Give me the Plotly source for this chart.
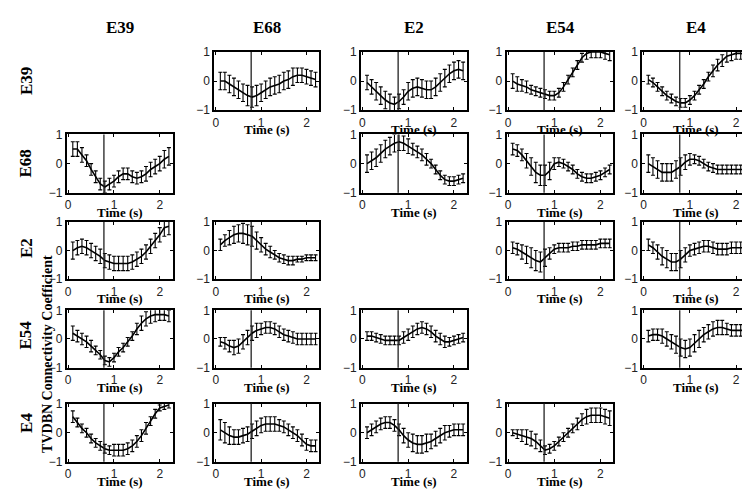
import plotly.graph_objects as go

channels = ["E39", "E68", "E2", "E54", "E4"]
time_s = [0.1, 0.2, 0.3, 0.4, 0.5, 0.6, 0.7, 0.8, 0.9, 1.0, 1.1,
          1.2, 1.3, 1.4, 1.5, 1.6, 1.7, 1.8, 1.9, 2.0, 2.1, 2.2]
onset_s = 0.78
x_ticks = [0, 1, 2]
y_ticks = [-1, 0, 1]

# row E39
e39_e68 = [0.0, 0.0, -0.1, -0.2, -0.3, -0.4, -0.5, -0.55, -0.5, -0.4, -0.3, -0.2, -0.15, -0.1, 0.0, 0.05, 0.15, 0.2, 0.2, 0.15, 0.1, 0.05]
e39_e68_err = [0.3, 0.3, 0.3, 0.3, 0.3, 0.3, 0.35, 0.35, 0.35, 0.3, 0.3, 0.3, 0.3, 0.3, 0.3, 0.3, 0.3, 0.25, 0.25, 0.25, 0.25, 0.25]
e39_e2 = [-0.05, -0.2, -0.35, -0.5, -0.65, -0.75, -0.8, -0.7, -0.55, -0.35, -0.25, -0.2, -0.25, -0.3, -0.3, -0.2, -0.05, 0.1, 0.25, 0.35, 0.4, 0.35]
e39_e2_err = [0.25, 0.25, 0.3, 0.3, 0.3, 0.3, 0.25, 0.25, 0.25, 0.3, 0.3, 0.3, 0.3, 0.3, 0.3, 0.3, 0.3, 0.3, 0.3, 0.3, 0.3, 0.3]
e39_e54 = [0.0, -0.1, -0.15, -0.2, -0.3, -0.35, -0.4, -0.45, -0.5, -0.5, -0.4, -0.2, 0.05, 0.3, 0.55, 0.8, 0.95, 1.0, 1.0, 1.0, 0.95, 0.9]
e39_e54_err = [0.25, 0.25, 0.2, 0.2, 0.15, 0.15, 0.15, 0.15, 0.15, 0.15, 0.15, 0.15, 0.15, 0.15, 0.15, 0.15, 0.2, 0.2, 0.2, 0.2, 0.2, 0.2]
e39_e4 = [0.05, -0.05, -0.2, -0.35, -0.5, -0.6, -0.7, -0.75, -0.75, -0.65, -0.5, -0.3, -0.1, 0.15, 0.35, 0.55, 0.7, 0.85, 0.9, 0.95, 0.95, 0.9]
e39_e4_err = [0.15, 0.15, 0.15, 0.15, 0.15, 0.15, 0.15, 0.15, 0.15, 0.15, 0.15, 0.15, 0.15, 0.15, 0.2, 0.2, 0.2, 0.2, 0.2, 0.2, 0.2, 0.2]

# row E68
e68_e39 = [0.5, 0.5, 0.3, 0.1, -0.2, -0.45, -0.7, -0.8, -0.7, -0.6, -0.45, -0.35, -0.35, -0.45, -0.5, -0.45, -0.35, -0.2, -0.1, 0.0, 0.15, 0.25]
e68_e39_err = [0.25, 0.25, 0.25, 0.2, 0.2, 0.2, 0.2, 0.2, 0.2, 0.2, 0.2, 0.2, 0.2, 0.2, 0.2, 0.2, 0.25, 0.25, 0.25, 0.25, 0.3, 0.3]
e68_e2 = [0.0, 0.1, 0.2, 0.35, 0.5, 0.6, 0.7, 0.75, 0.7, 0.6, 0.5, 0.4, 0.3, 0.15, 0.0, -0.2, -0.4, -0.55, -0.6, -0.6, -0.55, -0.5]
e68_e2_err = [0.3, 0.3, 0.3, 0.3, 0.3, 0.3, 0.3, 0.3, 0.25, 0.25, 0.2, 0.2, 0.2, 0.2, 0.15, 0.15, 0.15, 0.15, 0.15, 0.15, 0.15, 0.15]
e68_e54 = [0.5, 0.45, 0.3, 0.1, -0.1, -0.3, -0.4, -0.4, -0.25, 0.0, 0.05, 0.0, -0.1, -0.2, -0.35, -0.45, -0.5, -0.5, -0.45, -0.4, -0.3, -0.2]
e68_e54_err = [0.2, 0.2, 0.2, 0.25, 0.3, 0.35, 0.35, 0.35, 0.3, 0.2, 0.15, 0.15, 0.15, 0.15, 0.15, 0.15, 0.15, 0.15, 0.15, 0.15, 0.15, 0.15]
e68_e4 = [0.0, -0.1, -0.2, -0.3, -0.3, -0.3, -0.2, -0.1, 0.05, 0.15, 0.15, 0.1, 0.0, -0.1, -0.15, -0.2, -0.2, -0.2, -0.2, -0.2, -0.2, -0.2]
e68_e4_err = [0.3, 0.3, 0.3, 0.3, 0.3, 0.3, 0.3, 0.3, 0.25, 0.2, 0.15, 0.15, 0.15, 0.15, 0.15, 0.15, 0.15, 0.15, 0.15, 0.15, 0.15, 0.15]

# row E2
e2_e39 = [0.0, 0.1, 0.15, 0.1, 0.0, -0.1, -0.2, -0.35, -0.4, -0.45, -0.45, -0.45, -0.45, -0.4, -0.3, -0.2, -0.05, 0.15, 0.35, 0.55, 0.8, 0.85]
e2_e39_err = [0.3, 0.25, 0.25, 0.25, 0.25, 0.25, 0.25, 0.25, 0.25, 0.25, 0.25, 0.25, 0.25, 0.25, 0.25, 0.25, 0.25, 0.25, 0.25, 0.25, 0.3, 0.3]
e2_e68 = [0.2, 0.35, 0.45, 0.55, 0.6, 0.6, 0.55, 0.5, 0.35, 0.2, 0.05, -0.05, -0.15, -0.25, -0.3, -0.35, -0.35, -0.3, -0.3, -0.25, -0.25, -0.25]
e2_e68_err = [0.2, 0.2, 0.25, 0.3, 0.3, 0.35, 0.35, 0.35, 0.3, 0.25, 0.2, 0.2, 0.15, 0.15, 0.15, 0.15, 0.15, 0.1, 0.1, 0.1, 0.1, 0.1]
e2_e54 = [0.1, 0.05, -0.05, -0.15, -0.25, -0.35, -0.4, -0.25, -0.1, 0.05, 0.1, 0.1, 0.1, 0.15, 0.15, 0.2, 0.2, 0.2, 0.2, 0.25, 0.25, 0.25]
e2_e54_err = [0.2, 0.2, 0.25, 0.3, 0.35, 0.35, 0.35, 0.3, 0.2, 0.15, 0.15, 0.15, 0.15, 0.15, 0.15, 0.15, 0.15, 0.15, 0.15, 0.15, 0.15, 0.15]
e2_e4 = [0.2, 0.1, -0.05, -0.2, -0.3, -0.4, -0.4, -0.3, -0.15, 0.0, 0.05, 0.1, 0.15, 0.15, 0.1, 0.05, 0.05, 0.05, 0.1, 0.1, 0.1, 0.1]
e2_e4_err = [0.2, 0.2, 0.25, 0.3, 0.3, 0.3, 0.3, 0.3, 0.25, 0.2, 0.2, 0.2, 0.2, 0.2, 0.2, 0.2, 0.2, 0.2, 0.2, 0.2, 0.2, 0.2]

# row E54
e54_e39 = [0.2, 0.1, 0.0, -0.1, -0.25, -0.4, -0.55, -0.75, -0.8, -0.65, -0.45, -0.3, -0.1, 0.1, 0.35, 0.55, 0.7, 0.8, 0.85, 0.85, 0.85, 0.8]
e54_e39_err = [0.25, 0.2, 0.2, 0.2, 0.2, 0.15, 0.15, 0.15, 0.15, 0.15, 0.15, 0.15, 0.15, 0.15, 0.2, 0.25, 0.25, 0.25, 0.25, 0.2, 0.2, 0.2]
e54_e68 = [-0.1, -0.15, -0.25, -0.3, -0.25, -0.1, 0.05, 0.2, 0.3, 0.35, 0.4, 0.4, 0.35, 0.25, 0.15, 0.1, 0.05, 0.0, 0.0, 0.0, 0.0, 0.0]
e54_e68_err = [0.15, 0.2, 0.2, 0.25, 0.25, 0.25, 0.25, 0.25, 0.25, 0.2, 0.2, 0.2, 0.2, 0.2, 0.2, 0.2, 0.2, 0.2, 0.2, 0.2, 0.2, 0.2]
e54_e2 = [0.1, 0.1, 0.05, 0.0, -0.05, -0.05, -0.05, -0.05, 0.05, 0.15, 0.25, 0.35, 0.4, 0.35, 0.25, 0.1, 0.0, -0.1, -0.1, -0.05, 0.0, 0.05]
e54_e2_err = [0.15, 0.15, 0.15, 0.15, 0.15, 0.15, 0.15, 0.15, 0.2, 0.2, 0.2, 0.2, 0.2, 0.2, 0.2, 0.2, 0.2, 0.2, 0.15, 0.15, 0.15, 0.15]
e54_e4 = [0.1, 0.15, 0.15, 0.1, 0.0, -0.1, -0.2, -0.3, -0.35, -0.3, -0.15, 0.0, 0.15, 0.25, 0.35, 0.4, 0.4, 0.35, 0.3, 0.3, 0.3, 0.3]
e54_e4_err = [0.2, 0.2, 0.2, 0.25, 0.25, 0.25, 0.3, 0.3, 0.3, 0.3, 0.3, 0.3, 0.25, 0.25, 0.25, 0.25, 0.25, 0.2, 0.2, 0.2, 0.2, 0.2]

# row E4
e4_e39 = [0.55, 0.35, 0.15, 0.0, -0.2, -0.35, -0.45, -0.55, -0.6, -0.6, -0.6, -0.6, -0.55, -0.45, -0.3, -0.1, 0.15, 0.4, 0.65, 0.85, 0.9, 0.95]
e4_e39_err = [0.2, 0.15, 0.15, 0.15, 0.15, 0.15, 0.15, 0.15, 0.15, 0.2, 0.2, 0.2, 0.2, 0.2, 0.2, 0.2, 0.2, 0.15, 0.15, 0.1, 0.1, 0.1]
e4_e68 = [0.1, 0.0, -0.1, -0.15, -0.15, -0.1, -0.05, 0.05, 0.15, 0.25, 0.3, 0.3, 0.3, 0.25, 0.2, 0.1, 0.0, -0.1, -0.25, -0.4, -0.45, -0.45]
e4_e68_err = [0.35, 0.35, 0.3, 0.25, 0.25, 0.25, 0.25, 0.25, 0.25, 0.25, 0.25, 0.25, 0.25, 0.2, 0.2, 0.2, 0.2, 0.2, 0.2, 0.2, 0.2, 0.2]
e4_e2 = [0.0, 0.1, 0.2, 0.3, 0.35, 0.35, 0.25, 0.1, -0.1, -0.25, -0.35, -0.4, -0.4, -0.35, -0.3, -0.2, -0.1, 0.0, 0.05, 0.1, 0.1, 0.1]
e4_e2_err = [0.2, 0.2, 0.2, 0.2, 0.2, 0.2, 0.2, 0.2, 0.25, 0.25, 0.3, 0.3, 0.3, 0.3, 0.25, 0.25, 0.25, 0.25, 0.2, 0.2, 0.2, 0.2]
e4_e54 = [0.0, -0.05, -0.1, -0.15, -0.2, -0.3, -0.45, -0.6, -0.55, -0.45, -0.3, -0.15, 0.0, 0.15, 0.3, 0.45, 0.55, 0.6, 0.6, 0.6, 0.55, 0.5]
e4_e54_err = [0.1, 0.15, 0.2, 0.25, 0.25, 0.25, 0.2, 0.15, 0.15, 0.15, 0.15, 0.15, 0.15, 0.15, 0.2, 0.2, 0.25, 0.25, 0.25, 0.25, 0.25, 0.25]

panels = {
    (0, 1): (e39_e68, e39_e68_err), (0, 2): (e39_e2, e39_e2_err),
    (0, 3): (e39_e54, e39_e54_err), (0, 4): (e39_e4, e39_e4_err),
    (1, 0): (e68_e39, e68_e39_err), (1, 2): (e68_e2, e68_e2_err),
    (1, 3): (e68_e54, e68_e54_err), (1, 4): (e68_e4, e68_e4_err),
    (2, 0): (e2_e39, e2_e39_err), (2, 1): (e2_e68, e2_e68_err),
    (2, 3): (e2_e54, e2_e54_err), (2, 4): (e2_e4, e2_e4_err),
    (3, 0): (e54_e39, e54_e39_err), (3, 1): (e54_e68, e54_e68_err),
    (3, 2): (e54_e2, e54_e2_err), (3, 4): (e54_e4, e54_e4_err),
    (4, 0): (e4_e39, e4_e39_err), (4, 1): (e4_e68, e4_e68_err),
    (4, 2): (e4_e2, e4_e2_err), (4, 3): (e4_e54, e4_e54_err),
}

W, H = 750, 490
col_px = [(57, 163), (205, 310), (352, 458), (498, 605), (634, 741)]
row_px = [(38, 98), (123, 183), (213, 272), (304, 363), (400, 460)]
title_font = dict(family="Liberation Serif", size=17, color="black")
tick_font = dict(family="Liberation Sans", size=12, color="#222222")
time_font = dict(family="Liberation Serif", size=13, color="black")

fig = go.Figure()
layout = {}
annotations = []
shapes = []
k = 0
for (r, c), (vals, errs) in panels.items():
    k += 1
    suffix = "" if k == 1 else str(k)
    xa, ya = f"x{suffix}", f"y{suffix}"
    fig.add_trace(go.Scatter(
        x=time_s, y=vals, mode="lines",
        line=dict(color="black", width=1.6),
        error_y=dict(type="data", array=errs, color="black", thickness=1.1, width=2),
        xaxis=xa, yaxis=ya, showlegend=False, hoverinfo="skip"))
    x0, x1 = col_px[c]
    y0, y1 = row_px[r]
    layout[f"xaxis{suffix}"] = dict(
        domain=[x0 / W, x1 / W], range=[-0.03, 2.28], anchor=ya,
        tickvals=x_ticks, ticks="inside", ticklen=3, tickcolor="black",
        showline=True, mirror="ticks", linewidth=2, linecolor="black",
        showgrid=False, zeroline=False, tickfont=tick_font, fixedrange=True)
    layout[f"yaxis{suffix}"] = dict(
        domain=[1 - y1 / H, 1 - y0 / H], range=[-1, 1], anchor=xa,
        tickvals=y_ticks, ticks="inside", ticklen=3, tickcolor="black",
        showline=True, mirror="ticks", linewidth=2, linecolor="black",
        showgrid=False, zeroline=False, tickfont=tick_font, fixedrange=True)
    shapes.append(dict(type="line", xref=xa, yref=f"{ya} domain",
                       x0=onset_s, x1=onset_s, y0=0, y1=1,
                       line=dict(color="#222222", width=1.3)))
    annotations.append(dict(text="<b>Time (s)</b>", xref="paper", yref="paper",
                            x=(x0 + x1) / 2 / W, y=1 - (y1 + 20) / H,
                            xanchor="center", yanchor="middle", showarrow=False,
                            font=time_font))

col_title_y = 13
for c, name in enumerate(channels):
    x0, x1 = col_px[c]
    annotations.append(dict(text=f"<b>{name}</b>", xref="paper", yref="paper",
                            x=(x0 + x1) / 2 / W, y=1 - col_title_y / H,
                            xanchor="center", yanchor="middle", showarrow=False,
                            font=title_font))
row_label_y = [68, 153, 240, 329, 420]
for r, name in enumerate(channels):
    annotations.append(dict(text=f"<b>{name}</b>", xref="paper", yref="paper",
                            x=16 / W, y=1 - row_label_y[r] / H, textangle=-90,
                            xanchor="center", yanchor="middle", showarrow=False,
                            font=title_font))
annotations.append(dict(text="<b>TVDBN Connectivity Coefficient</b>", xref="paper",
                        yref="paper", x=37 / W, y=1 - 349 / H, textangle=-90,
                        xanchor="center", yanchor="middle", showarrow=False,
                        font=dict(family="Liberation Serif", size=14, color="black")))

fig.update_layout(width=W, height=H, margin=dict(l=0, r=0, t=0, b=0),
                  paper_bgcolor="white", plot_bgcolor="white",
                  annotations=annotations, shapes=shapes, **layout)
fig.write_html("out.html", config={"displayModeBar": False})
